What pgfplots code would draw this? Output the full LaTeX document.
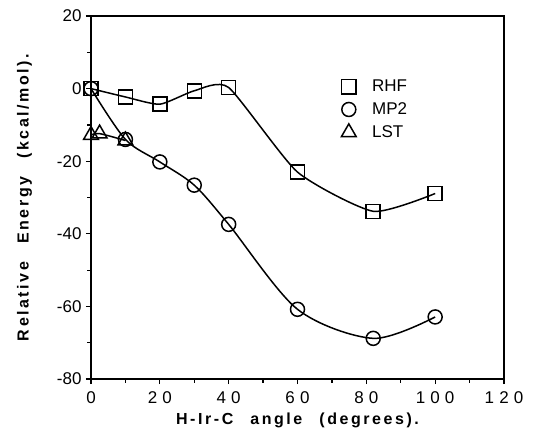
\documentclass[border=0pt]{standalone}
\usepackage{fontspec}
\setmainfont{Liberation Sans}
\newfontfamily\xtickfont[LetterSpace=30]{Liberation Sans}
\newfontfamily\labfont[LetterSpace=16]{Liberation Sans}
\usepackage{pgfplots}
\pgfplotsset{compat=1.18}
\begin{document}
\begin{tikzpicture}
\begin{axis}[
  scale only axis,
  width=413pt, height=363pt,
  xmin=0, xmax=120, ymin=-80, ymax=20,
  xtick={0,20,...,120},
  xticklabels={0,20,40,60,80,100,120},
  ytick={-80,-60,...,20},
  yticklabels={-80,-60,-40,-20,0,20},
  minor x tick num=1, minor y tick num=1,
  tick align=outside, tick pos=left,
  major tick length=5pt, minor tick length=3.5pt,
  axis line style={line width=1.4pt},
  every tick/.style={line width=1.2pt, black},
  xticklabel style={font=\xtickfont\fontsize{17}{20}\selectfont, yshift=-4pt},
  yticklabel style={font=\fontsize{17}{20}\selectfont, xshift=-1pt},
  xlabel={\labfont\bfseries H-Ir-C\hspace{10pt} angle\hspace{10pt} (degrees).},
  ylabel={\labfont\bfseries Relative\hspace{11pt} Energy\hspace{11pt} (kcal/mol).},
  xlabel style={font=\fontsize{16}{18}\selectfont, yshift=-2pt},
  ylabel style={font=\fontsize{16}{18}\selectfont, yshift=18pt},
  legend style={at={(axis cs:71.5,3.5)}, anchor=north west, draw=none, fill=none,
    font=\fontsize{17}{20}\selectfont, row sep=5.5pt,
    legend cell align=left},
  legend image code/.code={\path[draw=none] (0,0) -- (1.05cm,0); \draw[#1] plot coordinates {(0.3cm,0cm)};},
  every axis plot/.append style={line width=1.5pt, black},
  clip=false,
]
\addlegendimage{only marks, mark=square, mark size=7.2pt, mark options={line width=1.5pt, fill=white}}
\addlegendentry{RHF}
\addlegendimage{only marks, mark=o, mark size=7pt, mark options={line width=1.5pt, fill=white}}
\addlegendentry{MP2}
\addlegendimage{only marks, mark=triangle, mark size=8.5pt, mark options={line width=1.5pt, fill=white}}
\addlegendentry{LST}

\addplot[smooth, tension=0.35, mark=square, mark size=7pt, mark options={fill=white}] coordinates {
  (0,0) (10,-2.3) (20,-4.3) (30,-0.6) (40,0.3) (60,-23) (82,-33.8) (100,-28.9)};
\addplot[smooth, tension=0.5, mark=o, mark size=7pt, mark options={fill=white}] coordinates {
  (0,0) (10,-14) (20,-20.2) (30,-26.6) (40,-37.4) (60,-60.8) (82,-68.8) (100,-62.9)};
\addplot[smooth, mark=triangle, mark size=8.5pt, mark options={fill=white}] coordinates {
  (0,-12.8) (2.5,-12.4) (10,-14.3)};

\coordinate (sw) at (rel axis cs:0,0);
\coordinate (ne) at (rel axis cs:1,1);
\end{axis}
\pgfresetboundingbox
\path[use as bounding box] ([shift={(-91pt,-57pt)}]sw) rectangle ([shift={(30pt,16pt)}]ne);
\end{tikzpicture}
\end{document}
